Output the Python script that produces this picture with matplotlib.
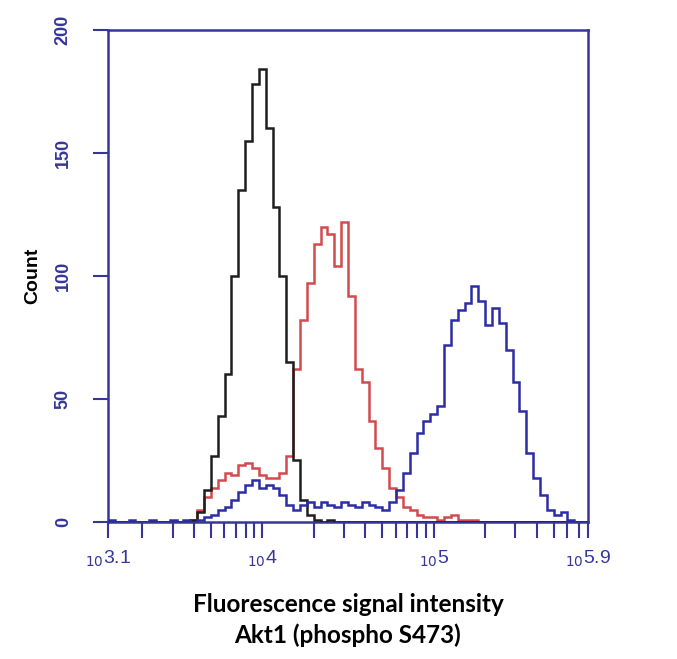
import numpy as np
import matplotlib
matplotlib.use("Agg")
import matplotlib.pyplot as plt
from matplotlib.ticker import FixedLocator, NullFormatter

# channel layout: log10 start of the first channel and channel width (decades)
LOG_START = 3.1
LOG_STEP = 0.04

# counts per channel
isotype_counts = [
    0, 0, 0, 0, 0, 0, 0, 0, 0, 0, 0, 0, 1, 4, 13, 27, 43, 60, 100, 135,
    155, 178, 184, 160, 128, 100, 65, 25, 9, 3, 1, 0, 1, 0, 0, 0, 0, 0, 0, 0,
    0, 0, 0, 0, 0, 0, 0, 0, 0, 0, 0, 0, 0, 0, 0, 0, 0, 0, 0, 0,
    0, 0, 0, 0, 0, 0, 0, 0, 0, 0,
]
unstim_counts = [
    0, 0, 0, 0, 0, 0, 0, 0, 0, 0, 0, 0, 1, 5, 10, 14, 17, 20, 19, 23,
    24, 22, 19, 18, 18, 20, 27, 62, 82, 97, 113, 120, 117, 104, 122, 92, 62, 57, 41, 30,
    22, 14, 10, 6, 5, 3, 2, 2, 1, 2, 3, 1, 1, 1, 0, 0, 0, 0, 0, 0,
    0, 0, 0, 0, 0, 0, 0, 0, 0, 0,
]
treated_counts = [
    1, 0, 0, 1, 0, 0, 1, 0, 0, 1, 0, 1, 0, 1, 2, 3, 5, 6, 9, 12,
    15, 17, 14, 15, 14, 11, 7, 5, 7, 8, 6, 8, 7, 6, 8, 7, 6, 8, 7, 6,
    5, 8, 13, 20, 28, 36, 41, 44, 47, 72, 82, 86, 89, 96, 90, 80, 87, 81, 70, 57,
    45, 28, 18, 11, 5, 3, 4, 1, 0, 0,
]

y_ticks = [0, 50, 100, 150, 200]
x_major_exp = [3.1, 4, 5, 5.9]
x_major_text = ["3.1", "4", "5", "5.9"]

NAVY = "#36369a"

plt.rcParams["font.family"] = ["Liberation Sans", "DejaVu Sans"]

fig = plt.figure(figsize=(6.77, 6.59), dpi=100)
ax = fig.add_axes([0.1595, 0.2079, 0.709, 0.7466])

edges = 10 ** (LOG_START + LOG_STEP * np.arange(len(isotype_counts) + 1))

ax.stairs(isotype_counts, edges, color="#1e1e1e", linewidth=1.8, baseline=None, zorder=3)
ax.stairs(unstim_counts, edges, color="#d24a4e", linewidth=1.8, baseline=None, zorder=2)
ax.stairs(treated_counts, edges, color="#2c2ca8", linewidth=1.8, baseline=None, zorder=4)

ax.set_xscale("log")
ax.set_xlim(10 ** 3.1, 10 ** 5.9)
ax.set_ylim(0, 200)

for side in ax.spines.values():
    side.set_color(NAVY)
    side.set_linewidth(1.8)

# y axis
ax.set_yticks(y_ticks)
ax.set_yticklabels([str(v) for v in y_ticks], rotation=90, va="center",
                   color=NAVY, fontsize=13, fontweight="bold")
ax.tick_params(axis="y", direction="out", length=11, width=1.5, color=NAVY, pad=15)

# x axis: log channels with little "10" before the exponent
ax.xaxis.set_major_locator(FixedLocator([10 ** e for e in x_major_exp]))
ax.set_xticklabels([r"$_{10}$" + t for t in x_major_text], color=NAVY, fontsize=14)
minors = []
for dec in [3, 4, 5]:
    for m in range(2, 10):
        v = m * 10 ** dec
        if 10 ** 3.1 < v < 10 ** 5.9:
            minors.append(v)
ax.xaxis.set_minor_locator(FixedLocator(minors))
ax.xaxis.set_minor_formatter(NullFormatter())
ax.tick_params(axis="x", which="both", direction="out", length=11.5, width=1.5,
               color=NAVY, pad=8)

ax.set_ylabel("Count", fontsize=14, fontweight="bold", labelpad=10)
ax.set_xlabel("Fluorescence signal intensity\nAkt1 (phospho S473)",
              fontsize=17.5, fontweight="bold", family=["Lato", "DejaVu Sans"],
              labelpad=17, linespacing=1.4)

fig.savefig("out.png", dpi=100, facecolor="white")
